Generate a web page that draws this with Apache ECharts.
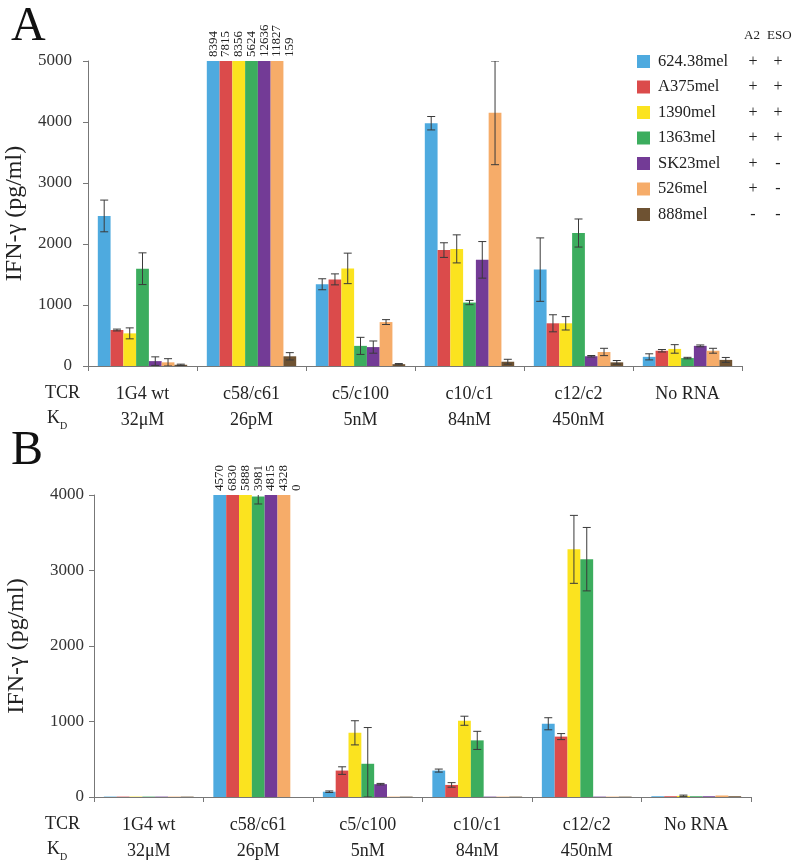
<!DOCTYPE html>
<html>
<head>
<meta charset="utf-8">
<script src="https://cdn.jsdelivr.net/npm/echarts@6/dist/echarts.min.js"></script>
<style>html,body{margin:0;padding:0;background:#fff}#c{width:800px;height:865px}</style>
</head>
<body>
<div id="c"></div>
<script>
// ---------- data ----------
var tcrNames = ['1G4 wt', 'c58/c61', 'c5/c100', 'c10/c1', 'c12/c2', 'No RNA'];
var kdValues = ['32μM', '26pM', '5nM', '84nM', '450nM', ''];
var cellLines = ['624.38mel', 'A375mel', '1390mel', '1363mel', 'SK23mel', '526mel', '888mel'];
var a2Status = ['+', '+', '+', '+', '+', '+', '-'];
var esoStatus = ['+', '+', '+', '+', '-', '-', '-'];

// Panel A values (pg/ml), one array per cell line, across TCR groups
var A_624 = [2460, 8394, 1340, 3980, 1580, 150];
var A_A375 = [590, 7815, 1420, 1900, 700, 250];
var A_1390 = [535, 8356, 1600, 1920, 700, 280];
var A_1363 = [1595, 5624, 330, 1040, 2180, 130];
var A_SK23 = [80, 12636, 310, 1740, 160, 330];
var A_526 = [60, 11827, 720, 4150, 230, 250];
var A_888 = [20, 159, 30, 70, 60, 100];
// Panel A error bars (half-length)
var Aerr_624 = [260, 0, 90, 110, 520, 50];
var Aerr_A375 = [15, 0, 90, 120, 140, 20];
var Aerr_1390 = [90, 0, 250, 230, 110, 70];
var Aerr_1363 = [260, 0, 140, 35, 230, 12];
var Aerr_SK23 = [70, 0, 100, 300, 12, 15];
var Aerr_526 = [60, 0, 40, 850, 60, 40];
var Aerr_888 = [10, 60, 10, 40, 30, 40];

// Panel B values
var B_624 = [5, 4570, 70, 350, 970, 10];
var B_A375 = [5, 6830, 350, 160, 800, 10];
var B_1390 = [5, 5888, 850, 1010, 3280, 15];
var B_1363 = [5, 3981, 440, 750, 3150, 10];
var B_SK23 = [5, 4815, 170, 5, 5, 10];
var B_526 = [5, 4328, 5, 5, 5, 20];
var B_888 = [5, 0, 5, 5, 5, 10];
// Panel B error bars
var Berr_624 = [0, 0, 10, 20, 80, 0];
var Berr_A375 = [0, 0, 50, 30, 40, 0];
var Berr_1390 = [0, 0, 160, 60, 450, 10];
var Berr_1363 = [0, 100, 480, 120, 420, 0];
var Berr_SK23 = [0, 0, 10, 0, 0, 0];
var Berr_526 = [0, 0, 0, 0, 0, 0];
var Berr_888 = [0, 0, 0, 0, 0, 0];

var yMaxA = 5000, yMaxB = 4000, yStepA = 1000, yStepB = 1000;
var labeledGroup = 1; // group whose bars exceed the axis and carry value labels

var colors = ['#4eaadf', '#db4b4b', '#fbe31f', '#3cad5e', '#733b96', '#f6ac69', '#6e5232'];

var panelA = [A_624, A_A375, A_1390, A_1363, A_SK23, A_526, A_888];
var panelAerr = [Aerr_624, Aerr_A375, Aerr_1390, Aerr_1363, Aerr_SK23, Aerr_526, Aerr_888];
var panelB = [B_624, B_A375, B_1390, B_1363, B_SK23, B_526, B_888];
var panelBerr = [Berr_624, Berr_A375, Berr_1390, Berr_1363, Berr_SK23, Berr_526, Berr_888];

var FONT = '"Liberation Serif", "DejaVu Serif", serif';
var GAP = 0.18;

function buildPanel(p, vals, errs, yMax) {
  var out = [];
  var nS = vals.length;
  vals.forEach(function (arr, s) {
    out.push({
      name: cellLines[s], type: 'bar', xAxisIndex: p, yAxisIndex: p,
      stack: 'p' + p + 's' + s, barGap: '0%', barCategoryGap: (GAP * 100) + '%',
      itemStyle: { color: colors[s] },
      data: arr.map(function (v) { return Math.min(v, yMax); })
    });
    out.push({
      name: 'cap' + p + '_' + s, type: 'bar', xAxisIndex: p, yAxisIndex: p,
      stack: 'p' + p + 's' + s, barGap: '0%', barCategoryGap: (GAP * 100) + '%',
      itemStyle: { color: 'rgba(0,0,0,0)' }, silent: true,
      label: {
        show: true, position: 'top', rotate: 90, align: 'left', verticalAlign: 'middle',
        distance: 4, fontFamily: FONT, fontSize: 13, color: '#222',
        formatter: function (prm) { return String(arr[prm.dataIndex]); }
      },
      data: arr.map(function (v, i) { return i === labeledGroup ? yMax - Math.min(v, yMax) : '-'; })
    });
  });
  var errData = [];
  vals.forEach(function (arr, s) {
    arr.forEach(function (v, i) {
      if (errs[s][i] > 0 && v < yMax) errData.push([i, s, v, errs[s][i]]);
    });
  });
  out.push({
    type: 'custom', xAxisIndex: p, yAxisIndex: p, clip: true, silent: true, z: 10,
    renderItem: function (params, api) {
      var cat = api.value(0), s = api.value(1), v = api.value(2), e = api.value(3);
      var catW = api.size([1, 0])[0];
      var used = catW * (1 - GAP);
      var barW = used / nS;
      var cx = api.coord([cat, 0])[0] - used / 2 + barW * (s + 0.5);
      var top = api.coord([cat, v + e])[1];
      var bot = api.coord([cat, Math.max(v - e, 0)])[1];
      var hw = 4;
      var st = { stroke: '#3a3a3a', lineWidth: 1 };
      return { type: 'group', children: [
        { type: 'line', shape: { x1: cx, y1: top, x2: cx, y2: bot }, style: st },
        { type: 'line', shape: { x1: cx - hw, y1: top, x2: cx + hw, y2: top }, style: st },
        { type: 'line', shape: { x1: cx - hw, y1: bot, x2: cx + hw, y2: bot }, style: st }
      ] };
    },
    encode: { x: 0, y: 2 },
    data: errData
  });
  return out;
}

function xAxisCfg(p) {
  return {
    type: 'category', gridIndex: p, data: tcrNames,
    axisLine: { lineStyle: { color: '#777', width: 1 } },
    axisTick: { show: true, length: 5, lineStyle: { color: '#777' } },
    axisLabel: {
      margin: 15, fontFamily: FONT, fontSize: 18, color: '#222', lineHeight: 26,
      formatter: function (val, idx) { return val + '\n' + kdValues[idx]; }
    }
  };
}
function yAxisCfg(p, max, step, gap, margin) {
  return {
    type: 'value', gridIndex: p, min: 0, max: max, interval: step,
    name: 'IFN-γ (pg/ml)', nameLocation: 'middle', nameRotate: 90, nameGap: gap,
    nameTextStyle: { fontFamily: FONT, fontSize: 24, color: '#222' },
    axisLine: { show: true, lineStyle: { color: '#777', width: 1 } },
    axisTick: { show: true, length: 5, lineStyle: { color: '#777' } },
    axisLabel: { margin: margin, fontFamily: FONT, fontSize: 17, color: '#333',
      formatter: function (v) { return String(v); } },
    splitLine: { show: false }
  };
}

function tcrGraphic(y) {
  return [
    { type: 'text', left: 45, top: y - 11, style: { text: 'TCR', font: '18px ' + FONT, fill: '#222' } },
    { type: 'text', left: 47, top: y + 14, style: {
      text: '{k|K}{d|D}', fill: '#222',
      rich: { k: { fontFamily: FONT, fontSize: 18, verticalAlign: 'bottom', lineHeight: 21 },
              d: { fontFamily: FONT, fontSize: 10, verticalAlign: 'bottom', lineHeight: 14, padding: [0, 0, -4, 0] } }
    } }
  ];
}

var chart = echarts.init(document.getElementById('c'), null, { renderer: 'canvas' });
var series = buildPanel(0, panelA, panelAerr, yMaxA).concat(buildPanel(1, panelB, panelBerr, yMaxB));

chart.setOption({
  animation: false,
  backgroundColor: '#fff',
  title: [
    { text: 'A', left: 6, top: -2, textStyle: { fontFamily: FONT, fontSize: 48, fontWeight: 'normal', color: '#111' } },
    { text: 'B', left: 6, top: 422, textStyle: { fontFamily: FONT, fontSize: 48, fontWeight: 'normal', color: '#111' } }
  ],
  grid: [
    { left: 88, right: 58, top: 61, height: 305, containLabel: false, outerBoundsMode: 'none' },
    { left: 94, right: 49, top: 495, height: 302, containLabel: false, outerBoundsMode: 'none' }
  ],
  xAxis: [xAxisCfg(0), xAxisCfg(1)],
  yAxis: [yAxisCfg(0, yMaxA, yStepA, 59, 16), yAxisCfg(1, yMaxB, yStepB, 65, 10)],
  legend: {
    data: cellLines, orient: 'vertical', left: 632, top: 48,
    itemWidth: 13, itemHeight: 13, itemGap: 8.5, icon: 'rect', selectedMode: false,
    textStyle: {
      fontFamily: FONT, fontSize: 16, color: '#222',
      rich: {
        n: { fontFamily: FONT, fontSize: 16.5, width: 86, padding: [0, 0, 0, 3], lineHeight: 16 },
        a: { fontFamily: FONT, fontSize: 16, width: 18, align: 'center', lineHeight: 16 },
        e: { fontFamily: FONT, fontSize: 16, width: 32, align: 'center', lineHeight: 16 }
      }
    },
    formatter: function (name) {
      var i = cellLines.indexOf(name);
      return '{n|' + name + '}{a|' + a2Status[i] + '}{e|' + esoStatus[i] + '}';
    }
  },
  graphic: [
    { type: 'text', left: 744, top: 29, style: { text: 'A2', font: '13px ' + FONT, fill: '#222' } },
    { type: 'text', left: 767, top: 29, style: { text: 'ESO', font: '13px ' + FONT, fill: '#222' } }
  ].concat(tcrGraphic(395)).concat(tcrGraphic(826)),
  series: series
});
</script>
</body>
</html>
